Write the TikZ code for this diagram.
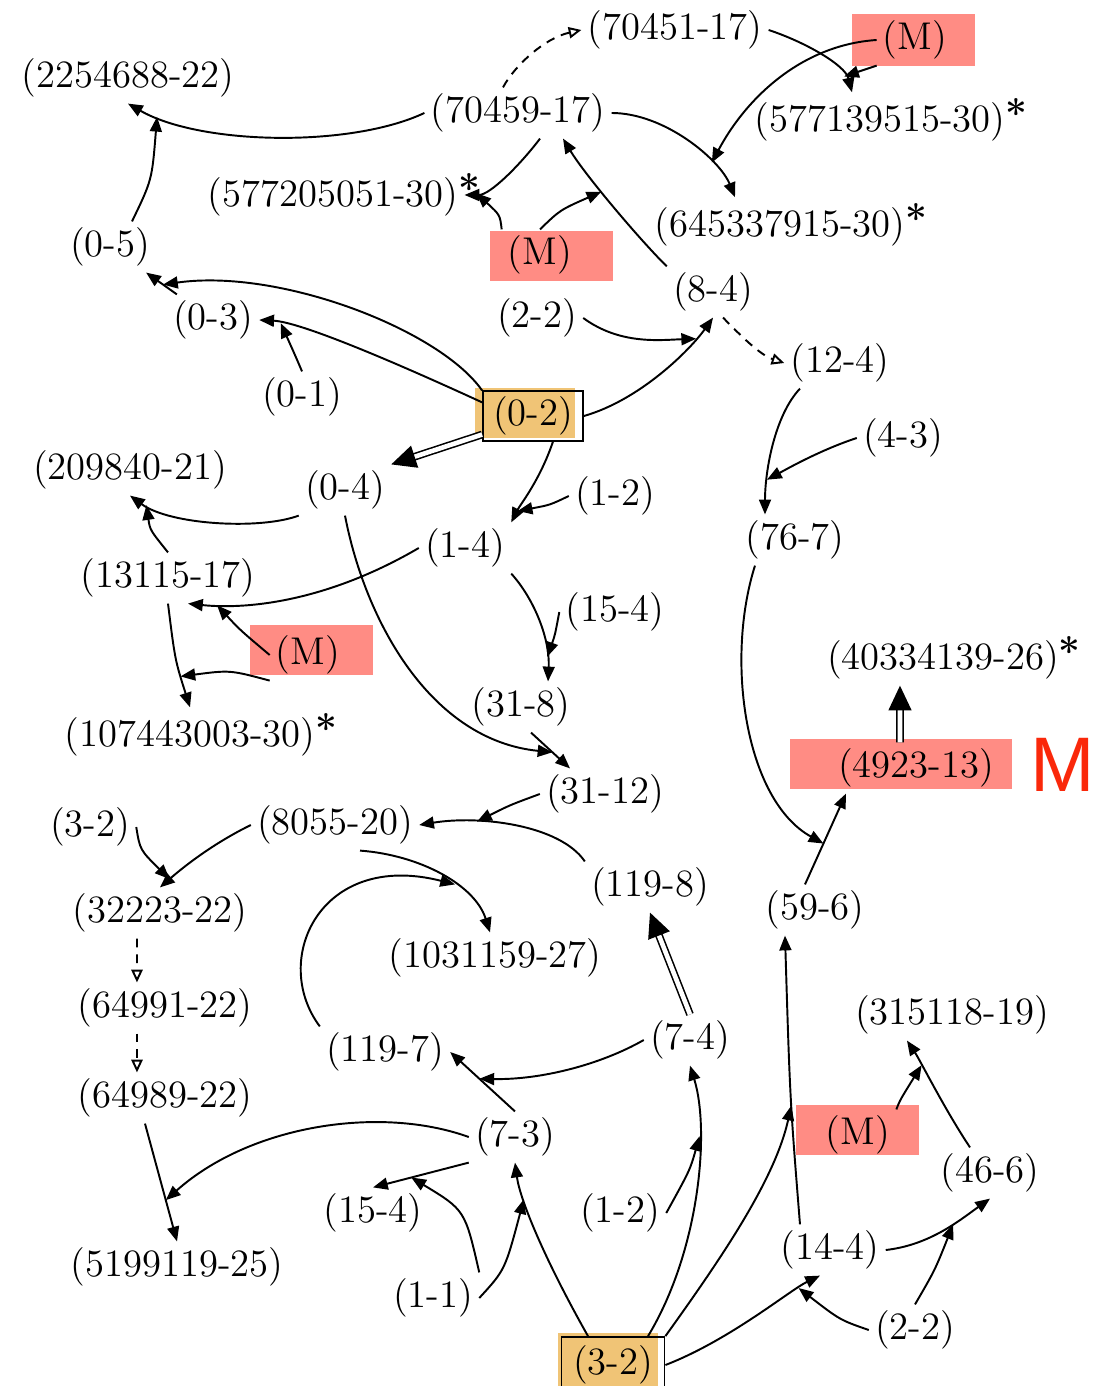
\documentclass[tikz,border=0pt]{standalone}
\usepackage{fontspec}
\newfontfamily\tagfont{Liberation Sans}
\usetikzlibrary{arrows.meta}
\definecolor{mred}{RGB}{255,140,132}
\definecolor{hlorange}{RGB}{240,196,118}
\definecolor{tagred}{RGB}{250,40,10}
\newcommand{\starmark}{\rlap{\raisebox{0.25ex}{\bfseries *}}}

\begin{document}
\begin{tikzpicture}[x=0.01cm, y=-0.01cm, line width=0.55pt,
  every node/.style={font=\fontsize{11}{13}\selectfont, inner sep=1.5pt},
  >={Triangle[length=4.2pt,width=3.4pt]},
  dsh/.style={dashed, dash pattern=on 2.5pt off 2pt, -{Triangle[open,length=3.6pt,width=3.2pt]}},
  dbl/.style={double, double distance=1.3pt, line width=0.45pt, -{Triangle[length=7pt,width=6.5pt]}},
  boxed/.style={draw, line width=0.5pt, minimum width=1cm, minimum height=0.48cm}]
\useasboundingbox (0,0) rectangle (1098,1386);
\fill[mred] (852,14) rectangle (975,66);
\fill[mred] (490,231) rectangle (613,281);
\fill[mred] (250,625) rectangle (373,675);
\fill[mred] (790,739) rectangle (1012,789);
\fill[mred] (796,1105) rectangle (919,1155);
\fill[hlorange] (475,388) rectangle (575,438);
\fill[hlorange] (558,1333) rectangle (658,1390);
\node (n70451) at (675,30) {(70451-17)};
\node (mtop) at (915,40) {(M)};
\node (n2254688) at (128,78) {(2254688-22)};
\node (n70459) at (518,113) {(70459-17)};
\node (n577139515) at (880,120) {(577139515-30)\starmark};
\node (n577205051) at (333,195) {(577205051-30)\starmark};
\node (mmid) at (540,255) {(M)};
\node (n645337915) at (780,225) {(645337915-30)\starmark};
\node (n05) at (110,247) {(0-5)};
\node (n84) at (713,292) {(8-4)};
\node (n03) at (213,320) {(0-3)};
\node (n22top) at (537,318) {(2-2)};
\node (n124) at (840,363) {(12-4)};
\node (n01) at (302,397) {(0-1)};
\node[boxed] (n02) at (533,416) {(0-2)};
\node (n43) at (903,438) {(4-3)};
\node (n209840) at (130,470) {(209840-21)};
\node (n04) at (345,490) {(0-4)};
\node (n12top) at (615,496) {(1-2)};
\node (n14) at (465,548) {(1-4)};
\node (n767) at (795,540) {(76-7)};
\node (n13115) at (168,578) {(13115-17)};
\node (n154top) at (615,612) {(15-4)};
\node (mleft) at (308,655) {(M)};
\node (n40334139) at (943,658) {(40334139-26)\starmark};
\node (n107443003) at (190,735) {(107443003-30)\starmark};
\node (n318) at (521,707) {(31-8)};
\node (n4923) at (916,768) {(4923-13)};
\node[font=\tagfont\fontsize{22}{24}\selectfont, text=tagred] (tagM) at (1063,765) {M};
\node (n3112) at (605,794) {(31-12)};
\node (n32top) at (90,827) {(3-2)};
\node (n8055) at (335,825) {(8055-20)};
\node (n1198) at (650,887) {(119-8)};
\node (n596) at (815,910) {(59-6)};
\node (n32223) at (160,913) {(32223-22)};
\node (n1031159) at (495,958) {(1031159-27)};
\node (n64991) at (165,1008) {(64991-22)};
\node (n315118) at (952,1015) {(315118-19)};
\node (n1197) at (385,1052) {(119-7)};
\node (n74) at (690,1040) {(7-4)};
\node (n64989) at (165,1098) {(64989-22)};
\node (mbot) at (858,1135) {(M)};
\node (n73) at (515,1137) {(7-3)};
\node (n466) at (990,1173) {(46-6)};
\node (n154bot) at (373,1213) {(15-4)};
\node (n12bot) at (620,1213) {(1-2)};
\node (n5199119) at (177,1267) {(5199119-25)};
\node (n144) at (830,1250) {(14-4)};
\node (n11) at (433,1298) {(1-1)};
\node (n22bot) at (915,1330) {(2-2)};
\node[boxed, minimum width=1.03cm, minimum height=0.56cm] (n32) at (613,1365) {(3-2)};
\draw[->] (n70459.west) .. controls (350,148) and (200,145) .. coordinate[pos=0.88] (j1) (n2254688.south);
\draw[->] ([xshift=0.22cm]n05.north) .. controls (152,180) .. (j1);
\draw[dsh] ([xshift=-0.15cm]n70459.north) .. controls (515,65) and (545,38) .. (n70451.west);
\draw[->] (n70451.east) .. controls (805,42) and (845,65) .. coordinate[pos=0.8] (j2) ([xshift=-0.28cm]n577139515.north);
\draw[->] (mtop.south west) -- (j2);
\draw[->] (n70459.east) .. controls (665,113) and (720,160) .. coordinate[pos=0.7] (j3) ([xshift=-0.45cm]n645337915.north);
\draw[->] (mtop.west) .. controls (800,45) and (745,100) .. (j3);
\draw[->] ([xshift=0.22cm]n70459.south) .. controls (520,165) and (490,195) .. coordinate[pos=0.85] (j4) (n577205051.east);
\draw[->] (mmid.north west) .. controls (500,215) .. (j4);
\draw[->] (n84.north west) .. controls (640,240) and (585,175) .. coordinate[pos=0.6] (j5) ([xshift=0.45cm]n70459.south);
\draw[->] (mmid.north) .. controls (560,210) .. (j5);
\draw[->] (n03) -- coordinate[pos=0.45] (j6) (n05);
\draw[->] (n02.north west) .. controls (440,330) and (280,268) .. (j6);
\draw[->] (n02.165) .. controls (390,360) and (300,322) .. coordinate[pos=0.85] (j7) (n03.east);
\draw[->] (n01.north) .. controls (295,355) .. (j7);
\draw[->] (n02.east) .. controls (640,400) and (690,350) .. coordinate[pos=0.8] (j8) (n84.south);
\draw[->] (n22top.east) .. controls (620,345) and (660,340) .. (j8);
\draw[dsh] ([xshift=0.1cm]n84.south) .. controls (740,335) and (760,355) .. (n124.west);
\draw[dbl] (n02.200) -- (n04.north east);
\draw[->] ([xshift=0.2cm]n02.south) .. controls (540,480) and (520,505) .. coordinate[pos=0.8] (j9) (n14.north east);
\draw[->] (n12top.west) .. controls (550,505) .. (j9);
\draw[->] (n04.south west) .. controls (260,530) and (170,525) .. coordinate[pos=0.88] (j10) (n209840.south);
\draw[->] (n13115.north) .. controls (150,530) .. (j10);
\draw[->] (n14.west) .. controls (330,600) and (250,610) .. coordinate[pos=0.85] (j11) ([xshift=0.2cm]n13115.south);
\draw[->] (mleft.west) .. controls (240,630) .. (j11);
\draw[->] (n13115.south) .. controls (175,660) .. coordinate[pos=0.72] (j12) (n107443003.north);
\draw[->] (mleft.south west) .. controls (230,670) .. (j12);
\draw[->] ([xshift=0.1cm]n318.south) -- coordinate[pos=0.55] (j13) ([xshift=-0.35cm]n3112.north);
\draw[->] (n04.south) .. controls (365,620) and (430,740) .. (j13);
\draw[->] (n14.south east) .. controls (535,600) and (550,640) .. coordinate[pos=0.8] (j14) ([xshift=0.27cm]n318.north);
\draw[->] (n154top.west) .. controls (555,635) .. (j14);
\draw[->] ([xshift=-0.4cm]n124.south) .. controls (775,415) and (765,470) .. coordinate[pos=0.75] (j15) ([xshift=-0.3cm]n767.north);
\draw[->] (n43.west) .. controls (820,450) and (785,470) .. (j15);
\draw[->] ([xshift=-0.1cm]n596.north) -- coordinate[pos=0.45] (j16) ([xshift=-0.7cm]n4923.south);
\draw[->] ([xshift=-0.4cm]n767.south) .. controls (725,660) and (745,800) .. (j16);
\draw[dbl] ([xshift=-0.16cm]n4923.north) -- ([xshift=-0.43cm]n40334139.south);
\draw[->] (n1198.north west) .. controls (560,825) and (480,815) .. coordinate[pos=0.7] (j17) (n8055.east);
\draw[->] (n3112.west) .. controls (510,805) .. (j17);
\draw[->] (n8055.west) .. controls (210,845) and (180,870) .. coordinate[pos=0.85] (j18) (n32223.north);
\draw[->] (n32top.east) .. controls (140,850) .. (j18);
\draw[->] ([xshift=0.25cm]n8055.south) .. controls (420,855) and (475,885) .. coordinate[pos=0.6] (j19) ([xshift=-0.05cm]n1031159.north);
\draw[->] (n1197.north west) .. controls (270,960) and (320,850) .. (j19);
\draw[dbl] (n74.north) -- (n1198.south);
\draw[->] (n73.north) -- coordinate[pos=0.55] (j20) (n1197.east);
\draw[->] (n74.west) .. controls (600,1065) and (540,1080) .. (j20);
\draw[->] ([xshift=-0.2cm]n64989.south) -- coordinate[pos=0.65] (j21) (n5199119.north);
\draw[->] (n73.west) .. controls (380,1105) and (250,1125) .. (j21);
\draw[->] (n73.south west) -- coordinate[pos=0.6] (j22) (n154bot.north);
\draw[->] (n11.north east) .. controls (465,1210) .. (j22);
\draw[->] ([xshift=-0.25cm]n32.north) .. controls (545,1260) and (520,1200) .. coordinate[pos=0.72] (j23) (n73.south);
\draw[->] (n11.east) .. controls (505,1270) .. (j23);
\draw[->] ([xshift=0.35cm]n32.north) .. controls (700,1250) and (710,1130) .. coordinate[pos=0.7] (j24) (n74.south);
\draw[->] (n12bot.east) .. controls (690,1170) .. (j24);
\draw[->] ([xshift=-0.3cm]n144.north) .. controls (790,1100) .. coordinate[pos=0.45] (j25) ([xshift=-0.3cm]n596.south);
\draw[->] (n32.north east) .. controls (720,1260) and (775,1180) .. (j25);
\draw[->] (n32.east) .. controls (730,1340) and (790,1290) .. coordinate[pos=0.8] (j26) ([xshift=-0.1cm]n144.south);
\draw[->] (n22bot.west) .. controls (840,1320) .. (j26);
\draw[->] (n144.east) .. controls (930,1245) and (960,1220) .. coordinate[pos=0.6] (j27) (n466.south);
\draw[->] (n22bot.north) .. controls (935,1270) .. (j27);
\draw[->] ([xshift=-0.2cm]n466.north) .. controls (945,1110) and (920,1060) .. coordinate[pos=0.7] (j28) ([xshift=-0.45cm]n315118.south);
\draw[->] (mbot.north east) .. controls (900,1100) .. (j28);
\draw[dsh] ([xshift=-0.23cm]n32223.south) -- ([xshift=-0.28cm]n64991.north);
\draw[dsh] ([xshift=-0.28cm]n64991.south) -- ([xshift=-0.28cm]n64989.north);
\end{tikzpicture}
\end{document}
